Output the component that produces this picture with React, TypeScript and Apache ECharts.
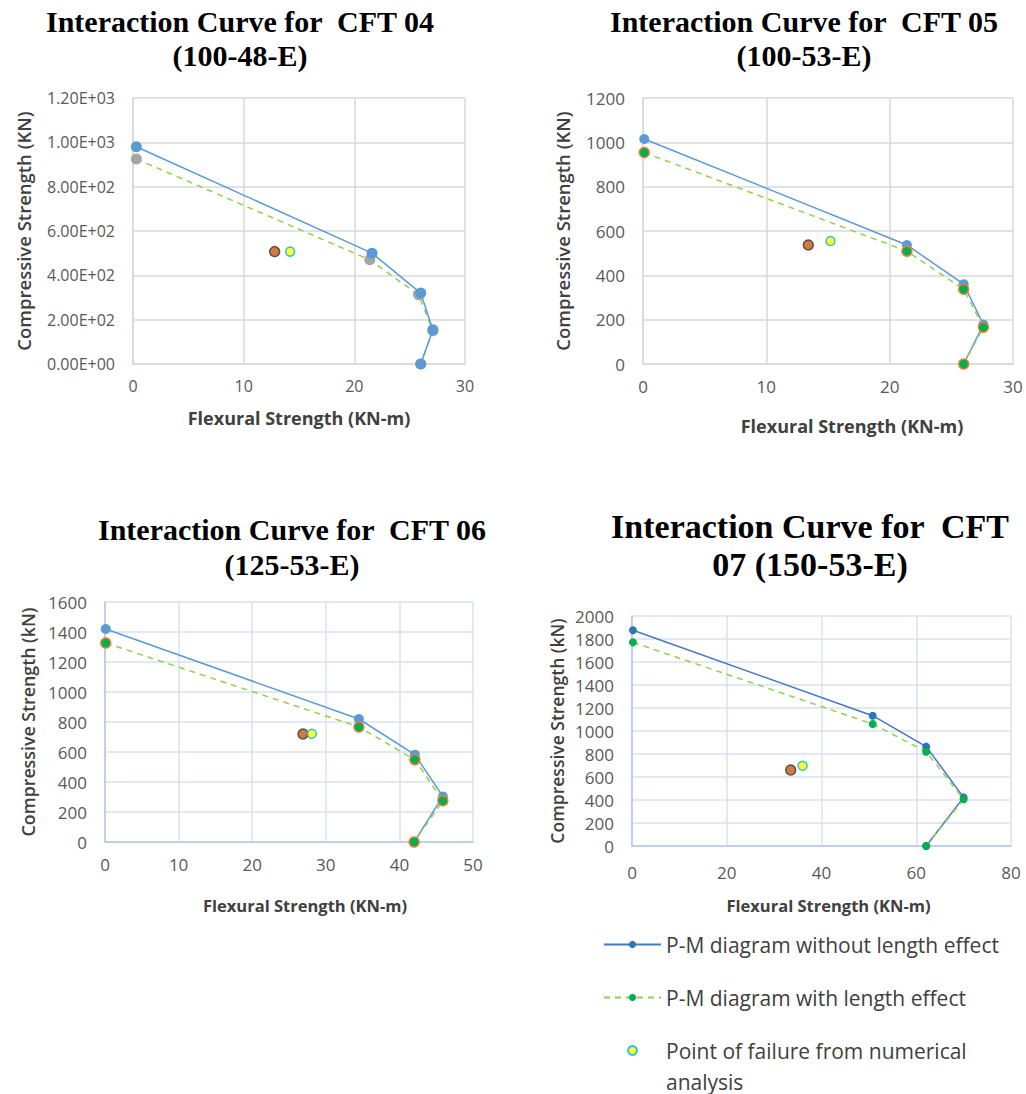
import React, { useEffect, useRef } from "react";
import * as echarts from "echarts";

const NAME_WITHOUT = "P-M diagram without length effect";
const NAME_WITH = "P-M diagram with length effect";
const NAME_FAIL = "Point of failure from numerical analysis";
const NAME_EXP = "Experimental point of failure";

// ---- CFT 04 (100-48-E) ----
const cft04MomentWithout = [0.3, 21.6, 26.0, 27.1, 26.0];
const cft04AxialWithout = [980, 500, 320, 155, 0];
const cft04MomentWith = [0.3, 21.4, 25.8, 27.1, 26.0];
const cft04AxialWith = [925, 470, 312, 150, 0];
const cft04Failure = [14.2, 507];
const cft04Experiment = [12.8, 507];
const cft04YTickLabels = ["0.00E+00", "2.00E+02", "4.00E+02", "6.00E+02", "8.00E+02", "1.00E+03", "1.20E+03"];

// ---- CFT 05 (100-53-E) ----
const cft05MomentWithout = [0.1, 21.4, 26.0, 27.6, 26.0];
const cft05AxialWithout = [1015, 537, 360, 178, 0];
const cft05MomentWith = [0.1, 21.4, 26.0, 27.6, 26.0];
const cft05AxialWith = [954, 509, 337, 166, 0];
const cft05Failure = [15.2, 555];
const cft05Experiment = [13.4, 537];

// ---- CFT 06 (125-53-E) ----
const cft06MomentWithout = [0.1, 34.5, 42.1, 45.9, 42.0];
const cft06AxialWithout = [1420, 820, 582, 304, 0];
const cft06MomentWith = [0.1, 34.5, 42.1, 45.9, 42.0];
const cft06AxialWith = [1327, 767, 549, 275, 0];
const cft06Failure = [28.1, 722];
const cft06Experiment = [26.9, 720];

// ---- CFT 07 (150-53-E) ----
const cft07MomentWithout = [0.2, 50.8, 62.1, 70.0, 62.1];
const cft07AxialWithout = [1876, 1133, 864, 423, 0];
const cft07MomentWith = [0.2, 50.8, 62.1, 70.0, 62.1];
const cft07AxialWith = [1771, 1061, 820, 406, 0];
const cft07Failure = [36.0, 698];
const cft07Experiment = [33.5, 661];

const titles = [
  "Interaction Curve for  CFT 04\n(100-48-E)",
  "Interaction Curve for  CFT 05\n(100-53-E)",
  "Interaction Curve for  CFT 06\n(125-53-E)",
  "Interaction Curve for  CFT\n07 (150-53-E)",
];
const xMax = [30, 30, 50, 80];
const xInterval = [10, 10, 10, 20];
const yMax = [1200, 1200, 1600, 2000];
const yInterval = [200, 200, 200, 200];
const yNames = [
  "Compressive Strength (KN)",
  "Compressive Strength (KN)",
  "Compressive Strength (kN)",
  "Compressive Strength (kN)",
];
const xName = "Flexural Strength (KN-m)";

const zip = (a: number[], b: number[]) => a.map((v, i) => [v, b[i]]);

const App = () => {
  const ref = useRef<HTMLDivElement>(null);
  useEffect(() => {
    if (!ref.current) return;
    const chart = echarts.init(ref.current, null, { renderer: "svg" });

    const grids = [
      { left: 133, top: 98, width: 332, height: 266 },
      { left: 643, top: 98, width: 370, height: 266 },
      { left: 105, top: 602, width: 368, height: 240 },
      { left: 632, top: 616, width: 379, height: 230 },
    ];
    const layout = [
      { tickFont: 16, xTickFont: 16, xMargin: 14, gridColor: "#D9D9D9", axisColor: "#D9D9D9", yGap: 100, xGap: 45, yNameFont: 18.5, xNameFont: 18, xNamePad: 0, sym: 11 },
      { tickFont: 17, xTickFont: 17, xMargin: 14, gridColor: "#D9D9D9", axisColor: "#D9D9D9", yGap: 71, xGap: 53, yNameFont: 18.5, xNameFont: 18, xNamePad: 48, sym: 10 },
      { tickFont: 17, xTickFont: 17, xMargin: 14, gridColor: "#D9E1F2", axisColor: "#B4C7E7", yGap: 68, xGap: 55, yNameFont: 17.8, xNameFont: 16.5, xNamePad: 32, sym: 10 },
      { tickFont: 17, xTickFont: 17, xMargin: 18, gridColor: "#D9E1F2", axisColor: "#B4C7E7", yGap: 66, xGap: 51, yNameFont: 17.5, xNameFont: 16.5, xNamePad: 14, sym: 8 },
    ];
    const titlePos = [
      { left: 240, top: 4, size: 30, lh: 34 },
      { left: 804, top: 4, size: 30, lh: 34 },
      { left: 292, top: 512, size: 30, lh: 35 },
      { left: 810, top: 507, size: 34, lh: 38 },
    ];

    const data = [
      { without: zip(cft04MomentWithout, cft04AxialWithout), withL: zip(cft04MomentWith, cft04AxialWith), fail: cft04Failure, exp: cft04Experiment },
      { without: zip(cft05MomentWithout, cft05AxialWithout), withL: zip(cft05MomentWith, cft05AxialWith), fail: cft05Failure, exp: cft05Experiment },
      { without: zip(cft06MomentWithout, cft06AxialWithout), withL: zip(cft06MomentWith, cft06AxialWith), fail: cft06Failure, exp: cft06Experiment },
      { without: zip(cft07MomentWithout, cft07AxialWithout), withL: zip(cft07MomentWith, cft07AxialWith), fail: cft07Failure, exp: cft07Experiment },
    ];

    const seriesFor = (i: number) => {
      const L = layout[i];
      const blueLine = i === 3 ? "#4478C0" : "#5B9BD5";
      const blueMark = i === 3 ? "#2E75B6" : "#5B9BD5";
      const withMark = i === 0 ? "#A5A5A5" : "#00B050";
      const withBorder = i === 0 || i === 3 ? withMark : "#ED7D31";
      return [
        {
          type: "line",
          name: NAME_WITHOUT,
          xAxisIndex: i,
          yAxisIndex: i,
          data: data[i].without,
          symbol: "circle",
          symbolSize: L.sym,
          clip: false,
          z: i === 0 ? 4 : 2,
          lineStyle: { color: blueLine, width: 1.5 },
          itemStyle: { color: blueMark },
          emphasis: { disabled: true },
        },
        {
          type: "line",
          name: NAME_WITH,
          xAxisIndex: i,
          yAxisIndex: i,
          data: data[i].withL,
          symbol: "circle",
          symbolSize: L.sym,
          clip: false,
          z: i === 0 ? 2 : 4,
          lineStyle: { color: "#92D050", width: 1.5, type: [6, 5] },
          itemStyle: { color: withMark, borderColor: withBorder, borderWidth: i === 0 || i === 3 ? 0 : 1.5 },
          emphasis: { disabled: true },
        },
        {
          type: "scatter",
          name: NAME_EXP,
          xAxisIndex: i,
          yAxisIndex: i,
          data: [data[i].exp],
          symbol: "circle",
          symbolSize: 10,
          z: 5,
          itemStyle: { color: "#C55A11", borderColor: "#3A3A3A", borderWidth: 1.5 },
          emphasis: { disabled: true },
        },
        {
          type: "scatter",
          name: NAME_FAIL,
          xAxisIndex: i,
          yAxisIndex: i,
          data: [data[i].fail],
          symbol: "circle",
          symbolSize: 9,
          z: 6,
          itemStyle: { color: "#FFFF00", borderColor: "#00B0F0", borderWidth: 1.5 },
          emphasis: { disabled: true },
        },
      ];
    };

    const legendText = { fontSize: 21, color: "#404040", fontFamily: "Open Sans" };

    const option: any = {
      animation: false,
      backgroundColor: "#ffffff",
      title: titles.map((t, i) => ({
        text: t,
        left: titlePos[i].left,
        top: titlePos[i].top,
        textAlign: "center",
        padding: 0,
        textStyle: {
          fontFamily: "Liberation Serif",
          fontWeight: "bold",
          fontSize: titlePos[i].size,
          lineHeight: titlePos[i].lh,
          color: "#000000",
        },
      })),
      grid: grids,
      xAxis: grids.map((_, i) => ({
        type: "value",
        gridIndex: i,
        min: 0,
        max: xMax[i],
        interval: xInterval[i],
        name: xName,
        nameLocation: "middle",
        nameGap: layout[i].xGap,
        nameTextStyle: {
          fontFamily: "Open Sans",
          fontWeight: "bold",
          fontSize: layout[i].xNameFont,
          color: "#404040",
          padding: [0, 0, 0, layout[i].xNamePad],
        },
        axisLine: { show: true, lineStyle: { color: layout[i].axisColor, width: 1.5 } },
        axisTick: { show: false },
        axisLabel: {
          fontFamily: "Open Sans",
          fontSize: layout[i].xTickFont,
          color: "#595959",
          margin: layout[i].xMargin,
          formatter: (v: number) => String(v),
        },
        splitLine: { show: true, lineStyle: { color: layout[i].gridColor, width: 1.5 } },
      })),
      yAxis: grids.map((_, i) => ({
        type: "value",
        gridIndex: i,
        min: 0,
        max: yMax[i],
        interval: yInterval[i],
        name: yNames[i],
        nameLocation: "middle",
        nameGap: layout[i].yGap,
        nameTextStyle: {
          fontFamily: "Open Sans",
          fontWeight: 600,
          fontSize: layout[i].yNameFont,
          color: "#404040",
        },
        axisLine: { show: true, lineStyle: { color: layout[i].axisColor, width: 1.5 } },
        axisTick: { show: false },
        axisLabel: {
          fontFamily: "Open Sans",
          fontSize: layout[i].tickFont,
          color: "#595959",
          margin: 18,
          formatter: i === 0 ? (v: number) => cft04YTickLabels[Math.round(v / 200)] : (v: number) => String(v),
        },
        splitLine: { show: true, lineStyle: { color: layout[i].gridColor, width: 1.5 } },
      })),
      legend: [
        {
          data: [NAME_WITHOUT],
          left: 603,
          top: 934,
          padding: 0,
          itemWidth: 57,
          itemHeight: 9,
          selectedMode: false,
          textStyle: legendText,
        },
        {
          data: [NAME_WITH],
          left: 603,
          top: 987,
          padding: 0,
          itemWidth: 57,
          itemHeight: 9,
          selectedMode: false,
          textStyle: legendText,
        },
        {
          data: [NAME_FAIL],
          left: 627,
          top: 1004,
          padding: 0,
          itemWidth: 57,
          itemHeight: 9,
          selectedMode: false,
          formatter: () => "\nPoint of failure from numerical\nanalysis",
          textStyle: { ...legendText, lineHeight: 31 },
        },
      ],
      series: [...seriesFor(3), ...seriesFor(0), ...seriesFor(1), ...seriesFor(2)],
    };

    chart.setOption(option);
    return () => chart.dispose();
  }, []);

  return (
    <div
      ref={ref}
      style={{ position: "fixed", left: 0, top: 0, width: 1026, height: 1094, background: "#fff" }}
    />
  );
};

export default App;
